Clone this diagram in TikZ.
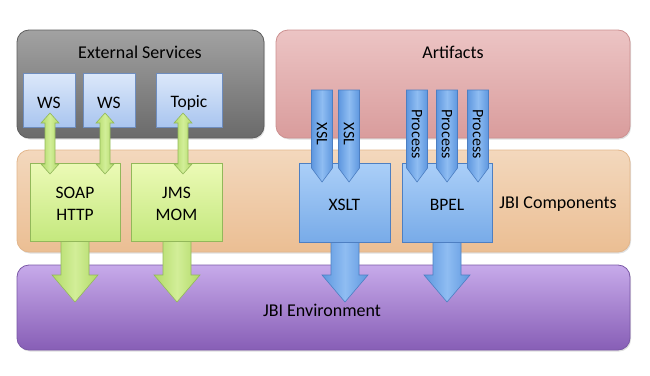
\documentclass[tikz,border=0pt]{standalone}
\usepackage{fontspec}
\setmainfont{Carlito}
\usetikzlibrary{shadows,calc}
\definecolor{grayT}{HTML}{A2A2A2}
\definecolor{grayB}{HTML}{6A6A6A}
\definecolor{grayD}{HTML}{5E5E5E}
\definecolor{pinkT}{HTML}{ECC4C4}
\definecolor{pinkB}{HTML}{D99C9C}
\definecolor{pinkD}{HTML}{CC9090}
\definecolor{peachT}{HTML}{F3D8BD}
\definecolor{peachB}{HTML}{EBBE93}
\definecolor{peachD}{HTML}{E2B68C}
\definecolor{purT}{HTML}{C7AAEA}
\definecolor{purB}{HTML}{875EB6}
\definecolor{purD}{HTML}{7A58A6}
\definecolor{wsT}{HTML}{DCE8FA}
\definecolor{wsB}{HTML}{A9C5EF}
\definecolor{wsD}{HTML}{6E8DBE}
\definecolor{grT}{HTML}{ECFAB6}
\definecolor{grB}{HTML}{C4E87E}
\definecolor{grD}{HTML}{92B85A}
\definecolor{grA}{HTML}{B2DA68}
\definecolor{grAL}{HTML}{D2EE98}
\definecolor{blT}{HTML}{ABCFF8}
\definecolor{blB}{HTML}{78ABE8}
\definecolor{blD}{HTML}{4D7FC2}
\definecolor{blA}{HTML}{5E97DF}
\definecolor{blAL}{HTML}{8FBDF2}
\tikzset{
  x=1pt,y=-1pt,
  panel/.style={rounded corners=12pt, line width=0.8pt,
    drop shadow={opacity=0.25,shadow xshift=1pt,shadow yshift=-1.5pt}},
  title/.style={font=\fontsize{18}{21}\selectfont, text=black},
  boxlbl/.style={font=\fontsize{17.5}{22}\selectfont, text=black, align=center},
  wsbox/.style={draw=wsD, line width=0.7pt, top color=wsT, bottom color=wsB},
  grbox/.style={draw=grD, line width=0.7pt, top color=grT, bottom color=grB},
  blbox/.style={draw=blD, line width=0.7pt, top color=blT, bottom color=blB},
  grarrow/.style={draw=grD, line width=0.6pt, left color=grA, right color=grA, middle color=grAL},
  blarrow/.style={draw=blD, line width=0.6pt, left color=blA, right color=blA, middle color=blAL},
  rot/.style={rotate=-90, font=\fontsize{16}{18}\selectfont, text=black},
}
\begin{document}
\begin{tikzpicture}
\useasboundingbox (0,0) rectangle (650,375);
% panels
\path[panel, draw=grayD, top color=grayT, bottom color=grayB] (17,30) rectangle (264,138);
\path[panel, draw=pinkD, top color=pinkT, bottom color=pinkB] (276,30) rectangle (630,138);
\path[panel, draw=peachD, top color=peachT, bottom color=peachB] (17,150) rectangle (630,252);
\path[panel, draw=purD, top color=purT, bottom color=purB] (17,265) rectangle (630,350);
\node[title] (extT) at (140,52) {External Services};
\node[title] (artT) at (453,52) {Artifacts};
\node[title] (jbiC) at (558,204) {JBI Components};
\node[title] (jbiE) at (322,310) {JBI Environment};

% external service boxes
\path[wsbox] (23,73) rectangle (75,127);
\node[boxlbl] (ws1) at (49,103) {WS};
\path[wsbox] (83,73) rectangle (135,127);
\node[boxlbl] (ws2) at (109,103) {WS};
\path[wsbox] (156,73) rectangle (222,127);
\node[boxlbl] (topic) at (189,103) {Topic};

% big down arrows (behind component boxes)
\foreach \c/\s in {75/gr,177/gr,345/bl,447/bl}{
  \path[\s arrow] (\c-14,230) -- (\c-14,275) -- (\c-23,275) -- (\c,302) -- (\c+23,275) -- (\c+14,275) -- (\c+14,230) -- cycle;
}

% component boxes
\path[grbox] (30,163) rectangle (120,241);
\node[boxlbl] (soap) at (75,204) {SOAP\\HTTP};
\path[grbox] (131,163) rectangle (222,241);
\node[boxlbl] (jms) at (176.5,204) {JMS\\MOM};
\path[blbox] (299,163) rectangle (390,242);
\node[boxlbl] (xslt) at (344.5,205) {XSLT};
\path[blbox] (402,163) rectangle (492,242);
\node[boxlbl] (bpel) at (447,205) {BPEL};

% double green arrows
\foreach \c in {50,105,183}{
  \path[grarrow] (\c,113) -- (\c+9,123) -- (\c+5,123) -- (\c+5,164) -- (\c+9,164) -- (\c,174) -- (\c-9,164) -- (\c-5,164) -- (\c-5,123) -- (\c-9,123) -- cycle;
}

% pentagon arrows
\foreach \c/\t in {322/XSL,349/XSL,417/Process,447/Process,478/Process}{
  \path[blarrow] (\c-10.5,90) -- (\c+10.5,90) -- (\c+10.5,168) -- (\c,182) -- (\c-10.5,168) -- cycle;
  \node[rot] at (\c,134) {\t};
}
\end{tikzpicture}
\end{document}
